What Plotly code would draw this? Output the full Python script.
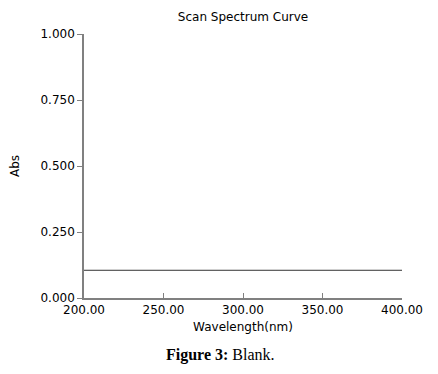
import plotly.graph_objects as go

wavelength = [200, 250, 300, 350, 400]
absorbance = [0.105, 0.105, 0.105, 0.105, 0.105]

x_ticks = [200, 250, 300, 350, 400]
x_labels = ["200.00", "250.00", "300.00", "350.00", "400.00"]
y_ticks = [0.0, 0.25, 0.5, 0.75, 1.0]
y_labels = ["0.000", "0.250", "0.500", "0.750", "1.000"]

font = "DejaVu Sans"

fig = go.Figure()
fig.add_trace(go.Scatter(x=wavelength, y=absorbance, mode="lines",
                         line=dict(color="#333333", width=1), showlegend=False,
                         hoverinfo="skip"))

fig.update_layout(
    width=430, height=366,
    margin=dict(l=76, r=36, t=26, b=76, autoexpand=False),
    paper_bgcolor="white", plot_bgcolor="white",
    font=dict(family=font, size=12, color="black"),
    title=dict(text="Scan Spectrum Curve", xref="paper", x=0.5, xanchor="center",
               yref="container", y=1 - 9 / 366, yanchor="middle",
               font=dict(size=12, family=font, color="black")),
    xaxis=dict(range=[200, 400], tickvals=x_ticks, ticktext=x_labels,
               showgrid=False, zeroline=False, showline=True, linecolor="#808080",
               linewidth=1.5, ticks="inside", ticklen=5, tickcolor="#808080",
               title=dict(text="Wavelength(nm)", standoff=6, font=dict(size=12)),
               tickfont=dict(size=12)),
    yaxis=dict(range=[0, 1], tickvals=y_ticks, ticktext=y_labels,
               showgrid=False, zeroline=False, showline=True, linecolor="#808080",
               linewidth=1.5, ticks="outside", ticklen=5, tickcolor="#808080",
               title=dict(text="Abs", standoff=22, font=dict(size=12)),
               tickfont=dict(size=12)),
)

fig.add_annotation(text="<b>Figure 3:</b> Blank.", xref="paper", yref="paper",
                   x=(220 - 84) / 318, y=-(355 - 298) / 264, xanchor="center", yanchor="middle",
                   showarrow=False, font=dict(family="Liberation Serif", size=16, color="black"))

fig.write_html("out.html")
